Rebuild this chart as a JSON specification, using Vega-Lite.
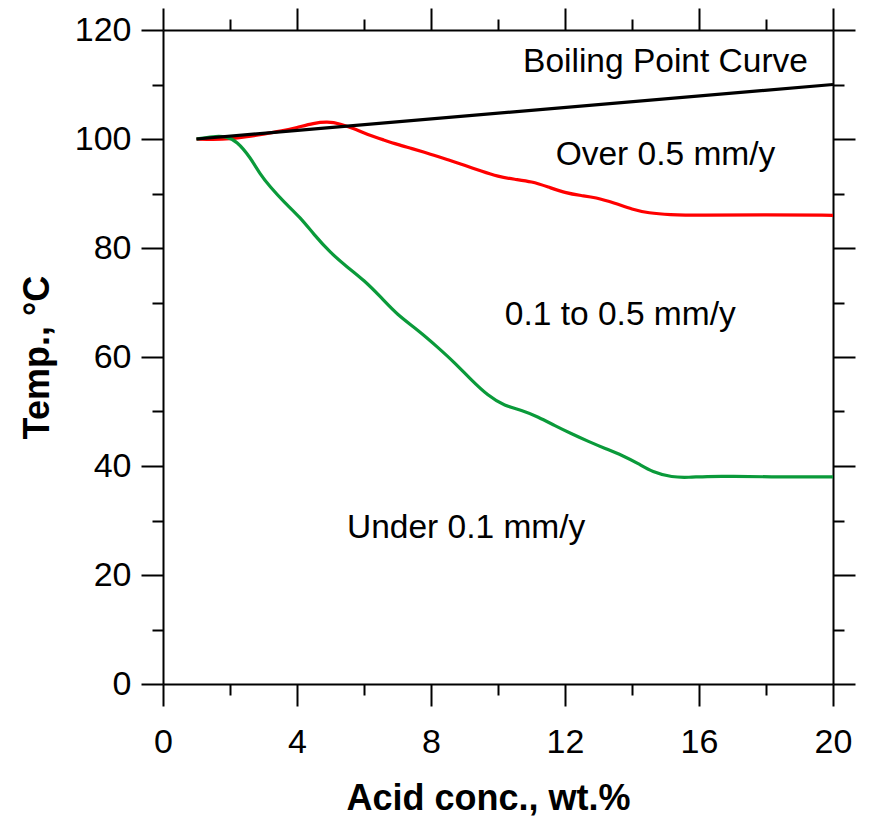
{
  "$schema": "https://vega.github.io/schema/vega-lite/v6.json",
  "width": 670,
  "height": 654,
  "autosize": "none",
  "padding": {"left": 163, "top": 30, "right": 38, "bottom": 133},
  "background": "white",
  "config": {
    "view": {"stroke": null},
    "font": "Liberation Sans",
    "axis": {
      "grid": false,
      "domainColor": "black",
      "domainWidth": 2,
      "tickColor": "black",
      "tickWidth": 2,
      "labelColor": "black",
      "labelFont": "Liberation Sans",
      "labelFontSize": 34,
      "labelFlush": false,
      "labelOverlap": false,
      "titleFont": "Liberation Sans",
      "titleFontSize": 36,
      "titleFontWeight": "bold",
      "titleColor": "black"
    }
  },
  "datasets": {
    "curves": [
      {"conc": 1, "temp": 100, "series": "0.5 mm/y"},
      {"conc": 1.5, "temp": 99.9, "series": "0.5 mm/y"},
      {"conc": 2, "temp": 100.0, "series": "0.5 mm/y"},
      {"conc": 2.5, "temp": 100.4, "series": "0.5 mm/y"},
      {"conc": 3, "temp": 100.9, "series": "0.5 mm/y"},
      {"conc": 3.5, "temp": 101.4, "series": "0.5 mm/y"},
      {"conc": 4, "temp": 102.1, "series": "0.5 mm/y"},
      {"conc": 4.5, "temp": 102.9, "series": "0.5 mm/y"},
      {"conc": 4.9, "temp": 103.2, "series": "0.5 mm/y"},
      {"conc": 5.3, "temp": 102.8, "series": "0.5 mm/y"},
      {"conc": 5.7, "temp": 101.9, "series": "0.5 mm/y"},
      {"conc": 6.1, "temp": 100.8, "series": "0.5 mm/y"},
      {"conc": 6.6, "temp": 99.8, "series": "0.5 mm/y"},
      {"conc": 7.0, "temp": 99.0, "series": "0.5 mm/y"},
      {"conc": 7.4, "temp": 98.3, "series": "0.5 mm/y"},
      {"conc": 8, "temp": 97.2, "series": "0.5 mm/y"},
      {"conc": 8.5, "temp": 96.2, "series": "0.5 mm/y"},
      {"conc": 9, "temp": 95.2, "series": "0.5 mm/y"},
      {"conc": 9.5, "temp": 94.1, "series": "0.5 mm/y"},
      {"conc": 10, "temp": 93.1, "series": "0.5 mm/y"},
      {"conc": 10.5, "temp": 92.6, "series": "0.5 mm/y"},
      {"conc": 11, "temp": 92.2, "series": "0.5 mm/y"},
      {"conc": 11.5, "temp": 91.2, "series": "0.5 mm/y"},
      {"conc": 12, "temp": 90.1, "series": "0.5 mm/y"},
      {"conc": 12.5, "temp": 89.6, "series": "0.5 mm/y"},
      {"conc": 12.9, "temp": 89.3, "series": "0.5 mm/y"},
      {"conc": 13.5, "temp": 88.2, "series": "0.5 mm/y"},
      {"conc": 14, "temp": 87.1, "series": "0.5 mm/y"},
      {"conc": 14.5, "temp": 86.4, "series": "0.5 mm/y"},
      {"conc": 15.1, "temp": 86.1, "series": "0.5 mm/y"},
      {"conc": 16, "temp": 86.0, "series": "0.5 mm/y"},
      {"conc": 18, "temp": 86.1, "series": "0.5 mm/y"},
      {"conc": 20, "temp": 86.0, "series": "0.5 mm/y"},
      {"conc": 1, "temp": 100, "series": "0.1 mm/y"},
      {"conc": 1.5, "temp": 100.5, "series": "0.1 mm/y"},
      {"conc": 1.9, "temp": 100.5, "series": "0.1 mm/y"},
      {"conc": 2.2, "temp": 99.6, "series": "0.1 mm/y"},
      {"conc": 2.6, "temp": 96.7, "series": "0.1 mm/y"},
      {"conc": 2.9, "temp": 93.5, "series": "0.1 mm/y"},
      {"conc": 3.2, "temp": 91.2, "series": "0.1 mm/y"},
      {"conc": 3.6, "temp": 88.5, "series": "0.1 mm/y"},
      {"conc": 4.1, "temp": 85.6, "series": "0.1 mm/y"},
      {"conc": 4.5, "temp": 82.5, "series": "0.1 mm/y"},
      {"conc": 5, "temp": 79.1, "series": "0.1 mm/y"},
      {"conc": 5.5, "temp": 76.5, "series": "0.1 mm/y"},
      {"conc": 6, "temp": 74.1, "series": "0.1 mm/y"},
      {"conc": 6.5, "temp": 71.0, "series": "0.1 mm/y"},
      {"conc": 7, "temp": 67.7, "series": "0.1 mm/y"},
      {"conc": 7.6, "temp": 65.0, "series": "0.1 mm/y"},
      {"conc": 8.2, "temp": 61.8, "series": "0.1 mm/y"},
      {"conc": 8.7, "temp": 59.0, "series": "0.1 mm/y"},
      {"conc": 9.2, "temp": 55.8, "series": "0.1 mm/y"},
      {"conc": 9.7, "temp": 52.9, "series": "0.1 mm/y"},
      {"conc": 10.2, "temp": 51.0, "series": "0.1 mm/y"},
      {"conc": 10.7, "temp": 50.3, "series": "0.1 mm/y"},
      {"conc": 11.2, "temp": 49.0, "series": "0.1 mm/y"},
      {"conc": 11.7, "temp": 47.4, "series": "0.1 mm/y"},
      {"conc": 12.2, "temp": 45.9, "series": "0.1 mm/y"},
      {"conc": 12.7, "temp": 44.5, "series": "0.1 mm/y"},
      {"conc": 13.2, "temp": 43.2, "series": "0.1 mm/y"},
      {"conc": 13.7, "temp": 42.0, "series": "0.1 mm/y"},
      {"conc": 14.2, "temp": 40.4, "series": "0.1 mm/y"},
      {"conc": 14.6, "temp": 38.9, "series": "0.1 mm/y"},
      {"conc": 15.2, "temp": 37.9, "series": "0.1 mm/y"},
      {"conc": 15.7, "temp": 37.9, "series": "0.1 mm/y"},
      {"conc": 16.2, "temp": 38.1, "series": "0.1 mm/y"},
      {"conc": 17, "temp": 38.1, "series": "0.1 mm/y"},
      {"conc": 18, "temp": 38.0, "series": "0.1 mm/y"},
      {"conc": 20, "temp": 38.0, "series": "0.1 mm/y"},
      {"conc": 1, "temp": 100, "series": "Boiling point"},
      {"conc": 20, "temp": 110, "series": "Boiling point"}
    ],
    "notes": [
      {"conc": 15.0, "temp": 112.3, "label": "Boiling Point Curve"},
      {"conc": 15.0, "temp": 95.2, "label": "Over 0.5 mm/y"},
      {"conc": 13.65, "temp": 65.9, "label": "0.1 to 0.5 mm/y"},
      {"conc": 9.05, "temp": 26.8, "label": "Under 0.1 mm/y"}
    ]
  },
  "layer": [
    {
      "data": {"name": "curves"},
      "mark": {"type": "line", "interpolate": "basis", "strokeWidth": 3.2},
      "encoding": {
        "x": {
          "field": "conc",
          "type": "quantitative",
          "scale": {"domain": [0, 20], "nice": false, "zero": false},
          "axis": {
            "orient": "bottom",
            "values": [0, 2, 4, 6, 8, 10, 12, 14, 16, 18, 20],
            "tickSize": {"condition": {"test": "datum.value % 4 === 0", "value": 22}, "value": 11},
            "labelExpr": "datum.value % 4 === 0 ? datum.label : ''",
            "labelPadding": 19,
            "title": "Acid conc., wt.%",
            "titlePadding": 22,
            "titleX": 325
          }
        },
        "y": {
          "field": "temp",
          "type": "quantitative",
          "scale": {"domain": [0, 120], "nice": false, "zero": false},
          "axis": {
            "orient": "left",
            "values": [0, 10, 20, 30, 40, 50, 60, 70, 80, 90, 100, 110, 120],
            "tickSize": {"condition": {"test": "datum.value % 20 === 0", "value": 22}, "value": 11},
            "labelExpr": "datum.value % 20 === 0 ? datum.label : ''",
            "labelPadding": 10,
            "title": "Temp., °C",
            "titlePadding": 18
          }
        },
        "color": {
          "field": "series",
          "type": "nominal",
          "scale": {"domain": ["0.5 mm/y", "0.1 mm/y", "Boiling point"], "range": ["#ff0000", "#0a9a3a", "#000000"]},
          "legend": null
        }
      }
    },
    {
      "data": {"name": "notes"},
      "mark": {"type": "text", "fontSize": 33.5, "font": "Liberation Sans", "baseline": "alphabetic", "align": "center", "color": "black"},
      "encoding": {
        "x": {
          "field": "conc",
          "type": "quantitative",
          "scale": {"domain": [0, 20], "nice": false, "zero": false},
          "axis": {
            "orient": "top",
            "values": [0, 2, 4, 6, 8, 10, 12, 14, 16, 18, 20],
            "tickSize": {"condition": {"test": "datum.value % 4 === 0", "value": 22}, "value": 11},
            "labels": false,
            "title": null
          }
        },
        "y": {
          "field": "temp",
          "type": "quantitative",
          "scale": {"domain": [0, 120], "nice": false, "zero": false},
          "axis": {
            "orient": "right",
            "values": [0, 10, 20, 30, 40, 50, 60, 70, 80, 90, 100, 110, 120],
            "tickSize": {"condition": {"test": "datum.value % 20 === 0", "value": 22}, "value": 11},
            "labels": false,
            "title": null
          }
        },
        "text": {"field": "label", "type": "nominal"}
      }
    }
  ],
  "resolve": {"axis": {"x": "independent", "y": "independent"}}
}
